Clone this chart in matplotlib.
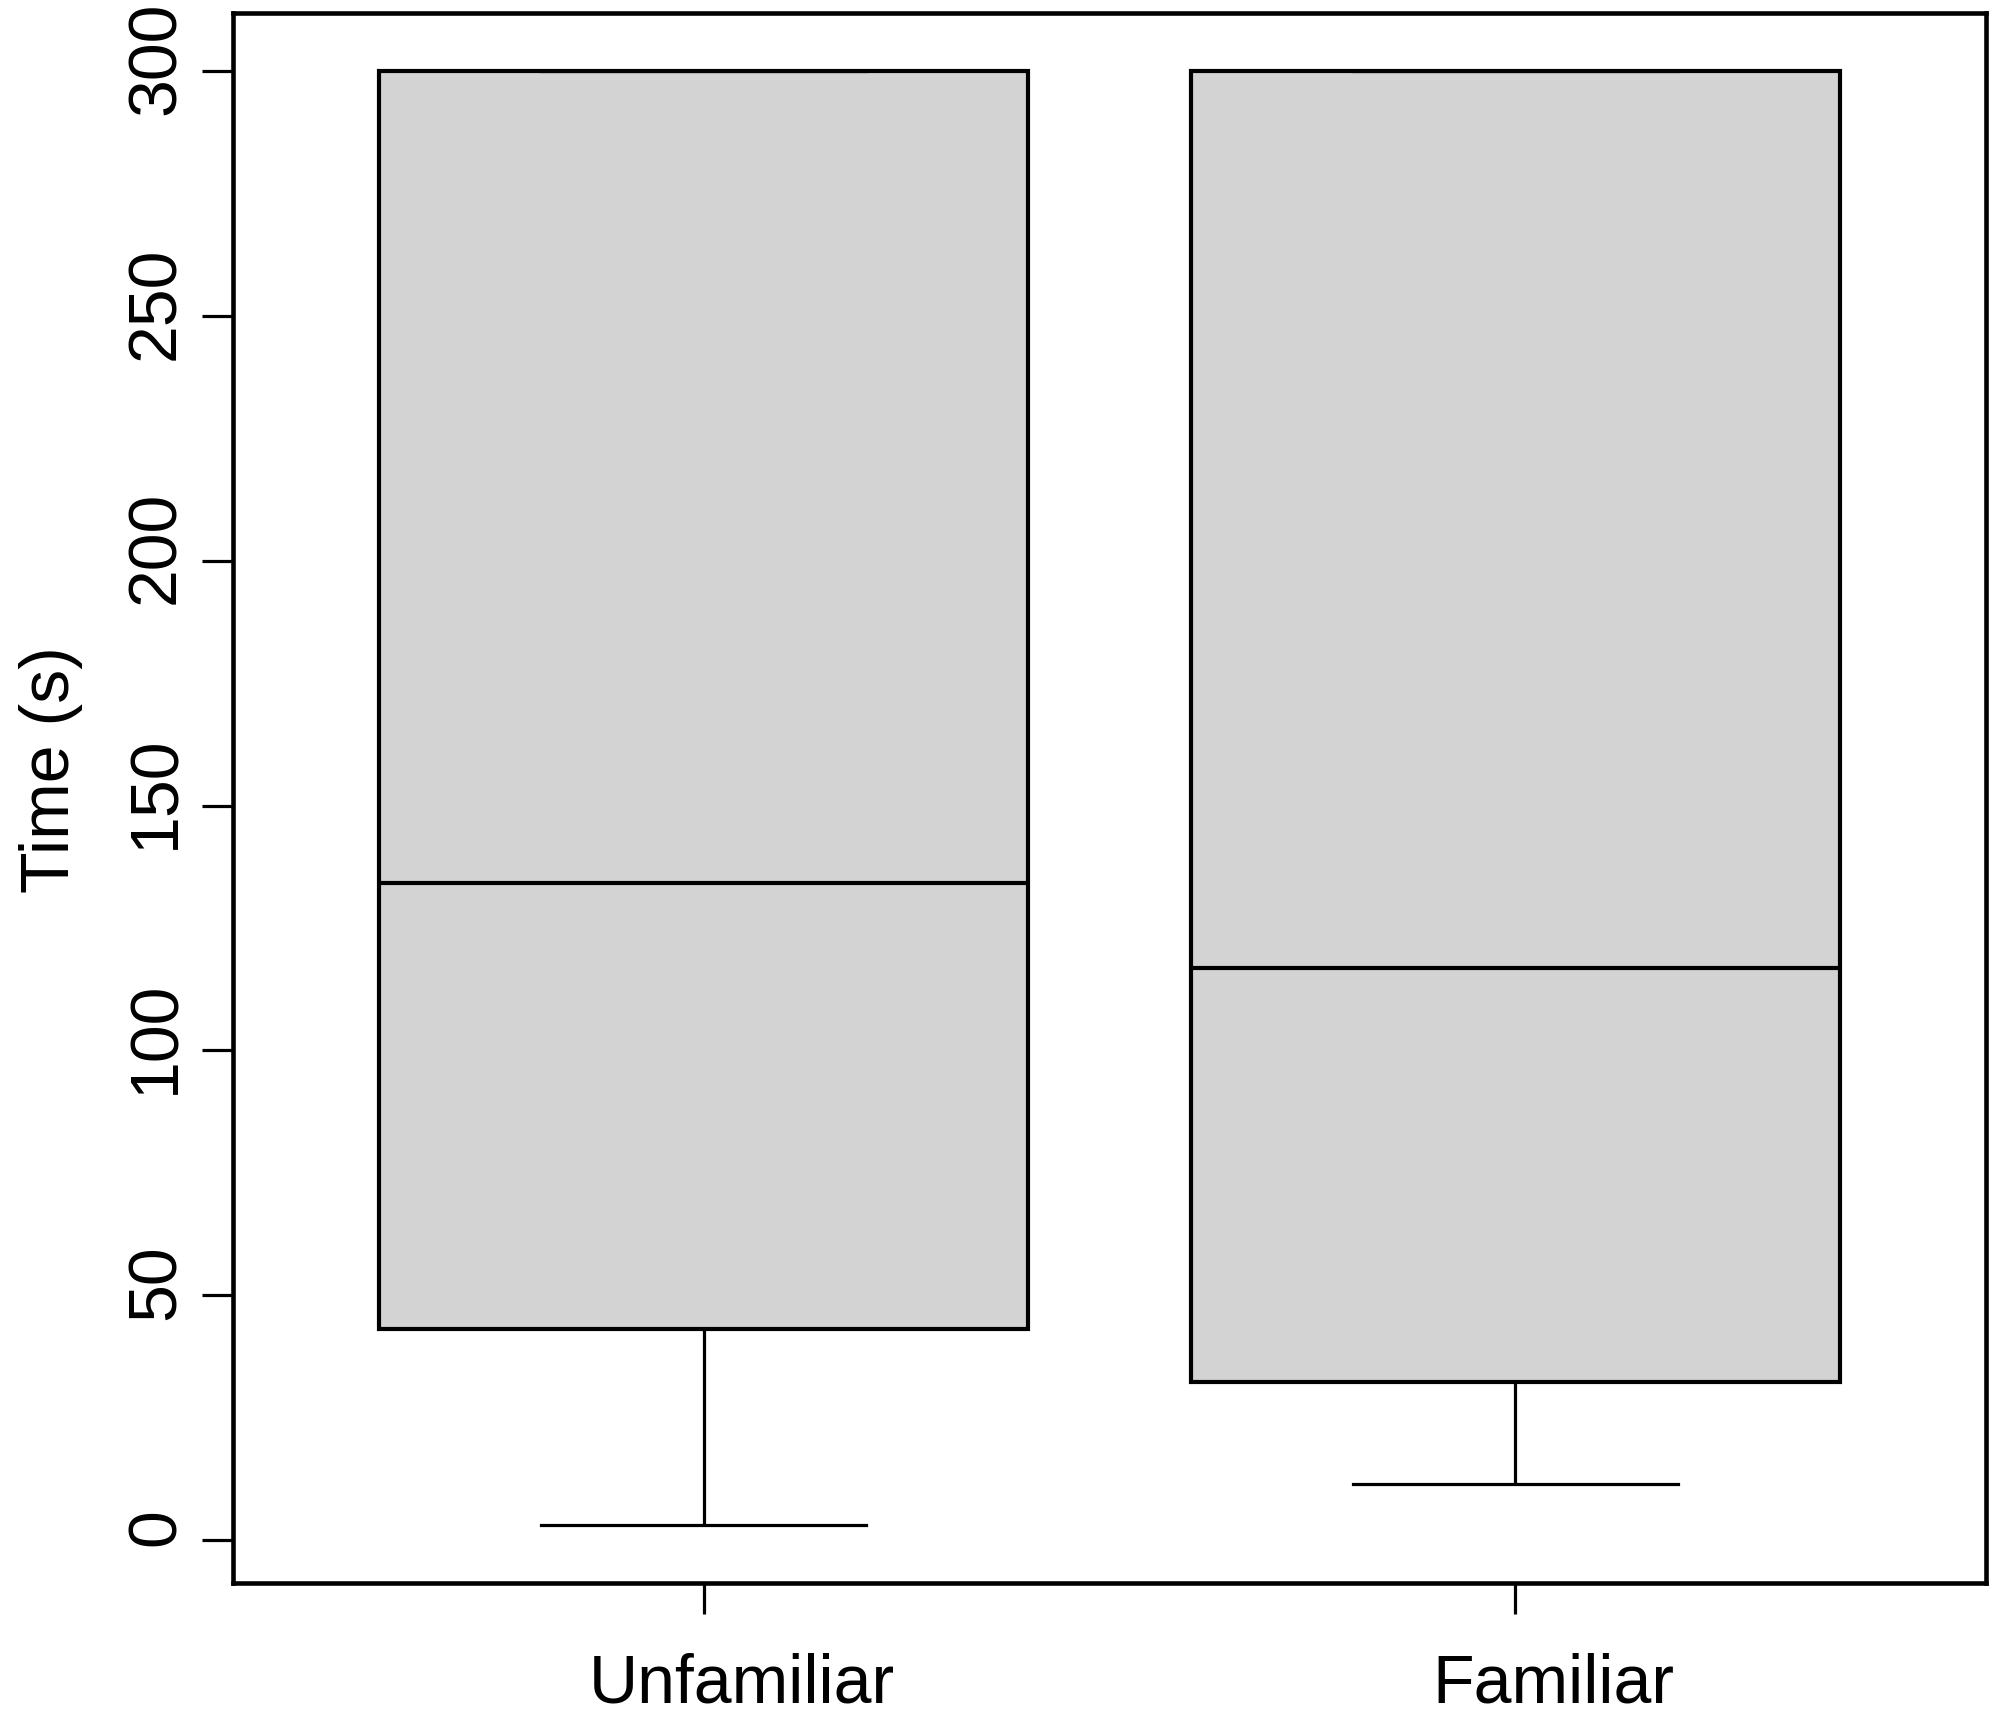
import matplotlib
matplotlib.use("Agg")
from matplotlib import pyplot as plt
from matplotlib import transforms

groups = ["Unfamiliar", "Familiar"]
whisker_low = [3.1, 11.5]
q1 = [43.0, 32.3]
median = [134.1, 116.9]
q3 = [300.0, 300.0]
whisker_high = [300.0, 300.0]
y_ticks = [0, 50, 100, 150, 200, 250, 300]

plt.rcParams["font.family"] = ["Liberation Sans", "DejaVu Sans"]

stats = []
for i in range(len(groups)):
    stats.append({"label": groups[i], "whislo": whisker_low[i], "q1": q1[i],
                  "med": median[i], "q3": q3[i], "whishi": whisker_high[i], "fliers": []})

fig = plt.figure(figsize=(19.95, 17.14), dpi=100)
ax = fig.add_axes([0.1168, 0.0764, 0.8787, 0.916])

ax.bxp(stats, positions=[1, 2], widths=0.8, capwidths=0.4, patch_artist=True,
       boxprops=dict(facecolor="#d3d3d3", edgecolor="black", linewidth=3.0),
       medianprops=dict(color="black", linewidth=3.0),
       whiskerprops=dict(color="black", linewidth=2.3, solid_capstyle="butt"),
       capprops=dict(color="black", linewidth=2.3))

ax.set_xlim(0.42, 2.58)
ax.set_ylim(-8.8, 311.9)
ax.set_yticks(y_ticks)
ax.set_yticklabels([str(v) for v in y_ticks], rotation=90, va="center")
ax.set_xticks([1, 2])
ax.set_xticklabels(groups)
ax.tick_params(axis="both", labelsize=49, length=22, width=2.3)
ax.tick_params(axis="x", pad=28)
ax.tick_params(axis="y", pad=10)
ax.set_ylabel("Time (s)", fontsize=49, labelpad=30)

# the labels in the original sit a bit off-centre along the text direction
for lab in ax.get_xticklabels():
    lab.set_transform(lab.get_transform() + transforms.ScaledTranslation(0.38, 0, fig.dpi_scale_trans))
for lab in ax.get_yticklabels():
    lab.set_transform(lab.get_transform() + transforms.ScaledTranslation(0, 0.13, fig.dpi_scale_trans))
ax.yaxis.label.set_transform(ax.yaxis.label.get_transform() + transforms.ScaledTranslation(0, 0.28, fig.dpi_scale_trans))

for s in ax.spines.values():
    s.set_linewidth(3.3)

fig.savefig("out.png", dpi=100)
